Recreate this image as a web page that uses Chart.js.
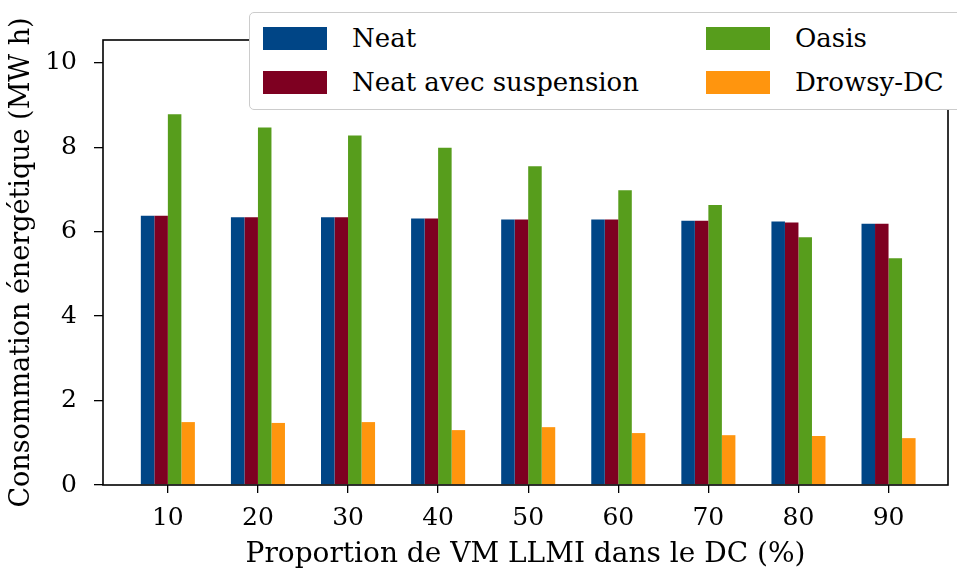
<!DOCTYPE html>
<html>
<head>
<meta charset="utf-8">
<script src="https://cdn.jsdelivr.net/npm/chart.js@4"></script>
<style>
  html, body { margin: 0; padding: 0; background: #fff; }
  #wrap { position: relative; width: 957px; height: 572px; }
  #legend {
    position: absolute; left: 249px; top: 12px; width: 720px; height: 98px;
    background: #fff; border: 1.5px solid #ccc; border-radius: 5px; box-sizing: border-box;
    font-family: "DejaVu Serif", serif; font-size: 26px; color: #000;
  }
  .item { position: absolute; display: flex; align-items: center; height: 30px; }
  .swatch { width: 64px; height: 23px; margin-right: 25px; }
</style>
</head>
<body>
<div id="wrap">
  <canvas id="chart" width="957" height="572"></canvas>
  <div id="legend"></div>
</div>
<script>
const categories = [10, 20, 30, 40, 50, 60, 70, 80, 90];
const seriesNames = ['Neat', 'Neat avec suspension', 'Oasis', 'Drowsy-DC'];
const neat = [6.38, 6.34, 6.34, 6.31, 6.29, 6.29, 6.26, 6.24, 6.19];
const neatSuspension = [6.38, 6.34, 6.34, 6.31, 6.29, 6.29, 6.26, 6.22, 6.19];
const oasis = [8.78, 8.47, 8.28, 7.99, 7.55, 6.98, 6.63, 5.87, 5.37];
const drowsy = [1.49, 1.47, 1.49, 1.30, 1.37, 1.23, 1.18, 1.16, 1.11];
const yTicks = [0, 2, 4, 6, 8, 10];
const colors = ['#004586', '#7e0021', '#579d1c', '#ff950e'];

const font = 'DejaVu Serif';
const values = [neat, neatSuspension, oasis, drowsy];

const frame = {
  id: 'frame',
  afterDraw(chart) {
    const a = chart.chartArea, ctx = chart.ctx;
    ctx.save();
    ctx.strokeStyle = '#000';
    ctx.lineWidth = 1.6;
    ctx.strokeRect(a.left, a.top, a.right - a.left, a.bottom - a.top);
    ctx.restore();
  }
};

new Chart(document.getElementById('chart'), {
  type: 'bar',
  data: {
    labels: categories,
    datasets: seriesNames.map((name, i) => ({
      label: name,
      data: values[i],
      backgroundColor: colors[i],
      borderWidth: 0,
      categoryPercentage: 0.6,
      barPercentage: 1.0
    }))
  },
  options: {
    responsive: false,
    animation: false,
    layout: { padding: { top: 40, right: 9, left: 0, bottom: 0 } },
    plugins: { legend: { display: false }, tooltip: { enabled: false } },
    scales: {
      x: {
        type: 'linear',
        offset: false,
        min: 2.8,
        max: 96.6,
        afterBuildTicks: s => { s.ticks = categories.map(v => ({ value: v })); },
        afterFit: s => { s.height = 87; },
        border: { display: false },
        grid: { offset: false, drawOnChartArea: false, drawTicks: true, tickLength: 8, color: '#000', lineWidth: 1.3 },
        ticks: { color: '#000', font: { family: font, size: 25 }, padding: 10, maxRotation: 0 },
        title: { display: true, text: 'Proportion de VM LLMI dans le DC (%)', color: '#000', font: { family: font, size: 28 }, padding: { top: 0, bottom: 0 } }
      },
      y: {
        min: 0,
        max: 10.54,
        afterBuildTicks: s => { s.ticks = yTicks.map(v => ({ value: v })); },
        afterFit: s => { s.width = 103; },
        border: { display: false },
        grid: { drawOnChartArea: false, drawTicks: true, tickLength: 9, color: '#000', lineWidth: 1.3 },
        ticks: { color: '#000', font: { family: font, size: 25 }, padding: 17 },
        title: { display: true, text: 'Consommation énergétique (MW h)', color: '#000', font: { family: font, size: 27 }, padding: { top: 6, bottom: 0 } }
      }
    }
  },
  plugins: [frame]
});

const legend = document.getElementById('legend');
const slots = [[13, 10], [13, 54], [456, 10], [456, 54]];
seriesNames.forEach((name, i) => {
  const item = document.createElement('div');
  item.className = 'item';
  item.style.left = slots[i][0] + 'px';
  item.style.top = slots[i][1] + 'px';
  const sw = document.createElement('div');
  sw.className = 'swatch';
  sw.style.background = colors[i];
  const label = document.createElement('span');
  label.textContent = name;
  item.appendChild(sw);
  item.appendChild(label);
  legend.appendChild(item);
});
</script>
</body>
</html>
